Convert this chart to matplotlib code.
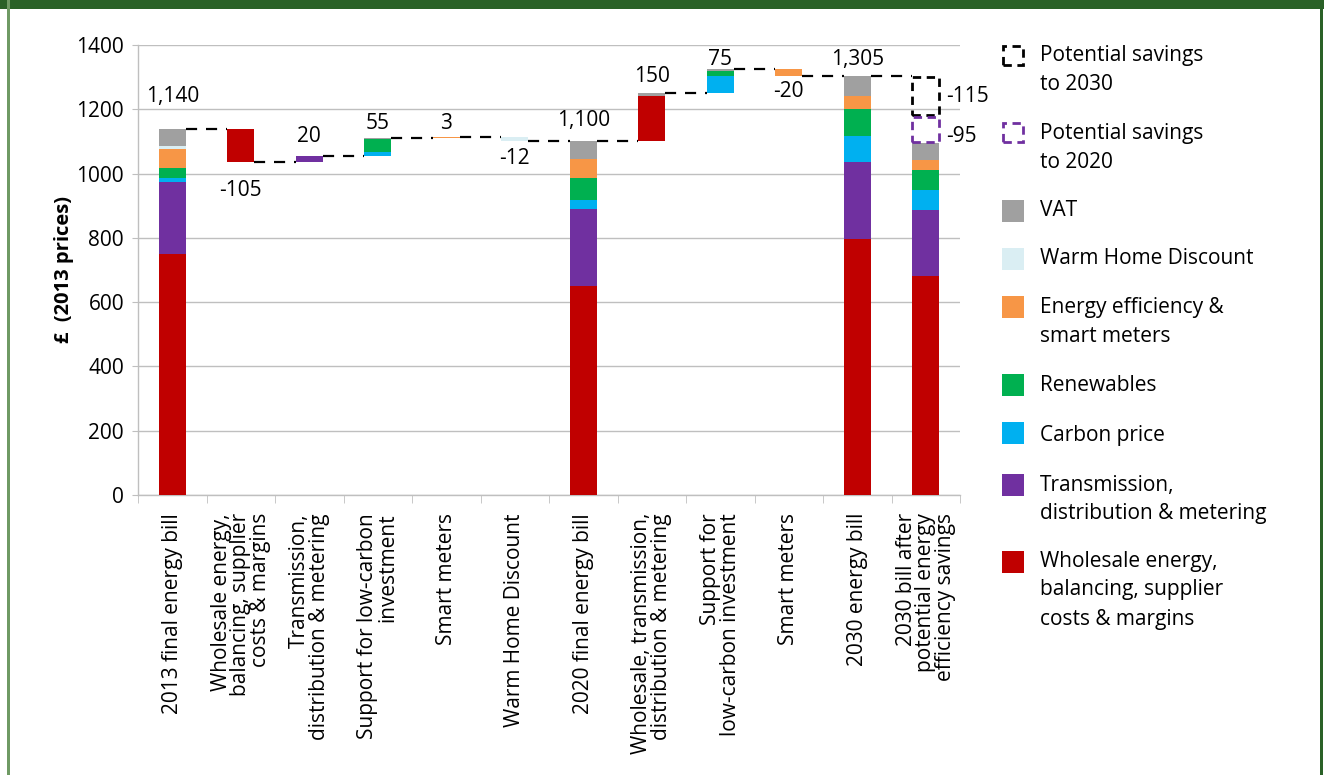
import matplotlib
matplotlib.use("Agg")
import matplotlib.pyplot as plt
from matplotlib.patches import Rectangle
import numpy as np

plt.rcParams['font.family'] = ['Open Sans', 'DejaVu Sans']

# ---------------- data ----------------
categories = [
    "2013 final energy bill",
    "Wholesale energy,\nbalancing, supplier\ncosts & margins",
    "Transmission,\ndistribution & metering",
    "Support for low-carbon\ninvestment",
    "Smart meters",
    "Warm Home Discount",
    "2020 final energy bill",
    "Wholesale, transmission,\ndistribution & metering",
    "Support for\nlow-carbon investment",
    "Smart meters",
    "2030 energy bill",
    "2030 bill after\npotential energy\nefficiency savings",
]
# kind: 'total' = bar from zero, 'step' = floating waterfall step
kinds = ['total', 'step', 'step', 'step', 'step', 'step',
         'total', 'step', 'step', 'step', 'total', 'total']

# component values per category (bottom -> top)
wholesale    = [750, -105,  0,  0, 0,   0, 650, 142,  0,   0, 795, 682]
transmission = [225,    0, 20,  0, 0,   0, 240,   0,  0,   0, 242, 206]
carbon       = [ 12,    0,  0, 13, 0,   0,  27,   0, 55,   0,  80,  60]
renewables   = [ 31,    0,  0, 40, 0,   0,  70,   0, 15,   0,  85,  63]
efficiency   = [ 57,    0,  0,  0, 3,   0,  58,   0,  0, -20,  40,  31]
warm_home    = [ 11,    0,  0,  0, 0, -12,   0,   0,  0,   0,   0,   0]
vat          = [ 54,    0,  0,  2, 0,   0,  55,   8,  5,   0,  63,  53]

value_labels = ["1,140", "-105", "20", "55", "3", "-12", "1,100",
                "150", "75", "-20", "1,305", ""]

savings_2030 = -115
savings_2020 = -95
savings_labels = ["-115", "-95"]

legend_names = ["Potential savings\nto 2030", "Potential savings\nto 2020", "VAT",
                "Warm Home Discount", "Energy efficiency &\nsmart meters",
                "Renewables", "Carbon price",
                "Transmission,\ndistribution & metering",
                "Wholesale energy,\nbalancing, supplier\ncosts & margins"]
series_vals = [wholesale, transmission, carbon, renewables, efficiency, warm_home, vat]
colors = ['#c00000', '#7030a0', '#00b0f0', '#00b050', '#f79646', '#daeef3', '#a0a0a0']

FS = 15

# ---------------- figure ----------------
W, H = 1324, 775
fig = plt.figure(figsize=(W / 100, H / 100), dpi=100)
ax = fig.add_axes([138 / W, 1 - 495 / H, (960 - 138) / W, 450 / H])

x = np.arange(len(categories))
bw = 0.39
running = 0.0
tops, bottoms, levels = [], [], []
for i in x:
    comps = [s[i] for s in series_vals]
    net = sum(comps)
    if kinds[i] == 'total':
        base = 0.0
        running = net
        lo, hi = 0.0, net
    else:
        if net >= 0:
            base = running
            lo, hi = running, running + net
        else:
            base = running + net
            lo, hi = running + net, running
        running = running + net
    b = base
    for v, c in zip(comps, colors):
        h = abs(v)
        if h > 0:
            ax.bar(i, h, bw, bottom=b, color=c, edgecolor='none', zorder=3)
            b += h
    bottoms.append(lo)
    tops.append(hi)
    levels.append(running)

# connectors
for i in range(len(x) - 1):
    ax.plot([i + bw / 2, i + 1 - bw / 2], [levels[i], levels[i]],
            color='black', lw=1.6, ls=(0, (5, 4)), zorder=4)

# potential savings boxes on last bar
last = len(x) - 1
top2030 = levels[last - 1]
y1 = top2030 + savings_2030
y2 = y1 + savings_2020
ax.add_patch(Rectangle((last - bw / 2, y1 - 8), bw, top2030 - y1 + 4, fill=False,
                       edgecolor='black', lw=2, ls=(0, (3, 2)), zorder=5))
ax.add_patch(Rectangle((last - bw / 2, y2 + 2), bw, y1 - y2 - 16, fill=False,
                       edgecolor='#7030a0', lw=2, ls=(0, (3, 2)), zorder=5))
ax.annotate(savings_labels[0], (last + bw / 2, (top2030 + y1) / 2), xytext=(5, -2),
            textcoords='offset points', ha='left', va='center', fontsize=FS)
ax.annotate(savings_labels[1], (last + bw / 2, (y1 + y2) / 2), xytext=(5, -6),
            textcoords='offset points', ha='left', va='center', fontsize=FS)

# value labels
label_off_px = [32, -28, 19, 15, 14, -17, 21, 17, 10, -16, 16, 0]
for i in x:
    if not value_labels[i]:
        continue
    off = label_off_px[i]
    yref = tops[i] if off > 0 else bottoms[i]
    ax.annotate(value_labels[i], (i, yref), xytext=(0, off * 0.72),
                textcoords='offset points', ha='center', va='center', fontsize=FS)

# axes styling
ax.set_xlim(-0.5, len(x) - 0.5)
ax.set_ylim(0, 1400)
ax.set_yticks(np.arange(0, 1401, 200))
ax.yaxis.grid(True, color='#bfbfbf', lw=1)
ax.set_axisbelow(True)
for s in ['top', 'right']:
    ax.spines[s].set_visible(False)
for s in ['left', 'bottom']:
    ax.spines[s].set_color('#bfbfbf')
    ax.spines[s].set_linewidth(1)
ax.tick_params(axis='y', length=4, color='#bfbfbf', labelsize=FS, pad=6)
ax.set_xticks(x)
ax.set_xticklabels(categories, rotation=90, fontsize=FS, ha='center', va='top',
                   multialignment='right', linespacing=0.92)
ax.tick_params(axis='x', length=0, pad=13)
ax.set_xticks(np.arange(-0.5, len(x), 1), minor=True)
ax.tick_params(axis='x', which='minor', length=6, color='#bfbfbf')
ax.set_ylabel("£  (2013 prices)", fontsize=FS - 0.5, fontweight='bold', labelpad=2)

# ---------------- legend (manual) ----------------
def fx(px):
    return px / W

def fy(py):
    return 1 - py / H

def box(x0, y0, x1, y1, **kw):
    fig.add_artist(Rectangle((fx(x0), fy(y1)), fx(x1) - fx(x0), fy(y0) - fy(y1),
                             transform=fig.transFigure, **kw))

legend_styles = [('dash', 'black', 45, 55), ('dash', '#7030a0', 122, 133),
                 ('solid', colors[6], 200, 210), ('solid', colors[5], 248, 259),
                 ('solid', colors[4], 296, 307), ('solid', colors[3], 374, 385),
                 ('solid', colors[2], 422, 435), ('solid', colors[1], 474, 485),
                 ('solid', colors[0], 551, 561)]
for name, (style, col, ytop, ytext) in zip(legend_names, legend_styles):
    if style == 'dash':
        box(1003, ytop + 1, 1023, ytop + 20, fill=False, edgecolor=col, lw=2,
            ls=(0, (3, 2)))
    else:
        box(1002, ytop, 1024, ytop + 22, facecolor=col, edgecolor='none')
    for k, line in enumerate(name.split("\n")):
        fig.text(fx(1040), fy(ytext + 29 * k), line, ha='left', va='center',
                 fontsize=FS)

# ---------------- frame ----------------
box(0, 0, W, 9, facecolor='#2a6127', edgecolor='none')
box(7, 0, 10, H, facecolor='#6f9a64', edgecolor='none')
box(1320, 0, 1323, H, facecolor='#2a6127', edgecolor='none')

fig.savefig("out.png", dpi=100)
